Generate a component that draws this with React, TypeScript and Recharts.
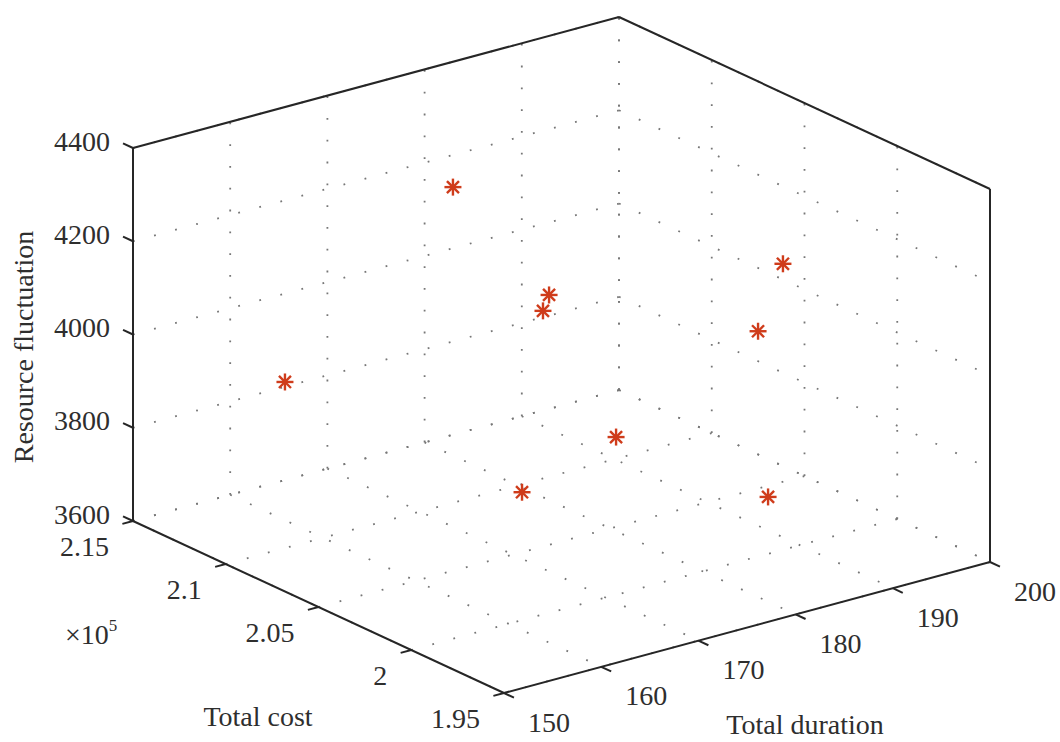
import React from 'react'
import { ScatterChart, Scatter, XAxis, YAxis, ReferenceLine } from 'recharts'

const W = 1060
const H = 742

// data: total duration, total cost, resource fluctuation
const durations = [172, 180, 183, 192, 194, 183, 173, 189, 158]
const costs = [209280, 208290, 210190, 201970, 204360, 206250, 206080, 201200, 211000]
const fluctuations = [4298, 4040, 3954, 4156, 3956, 3756, 3697, 3687, 3927]

const durationTicks = [150, 160, 170, 180, 190, 200]
const costTicks = [215000, 210000, 205000, 200000, 195000]
const costTickLabels = ['2.15', '2.1', '2.05', '2', '1.95']
const fluctuationTicks = [3600, 3800, 4000, 4200, 4400]

const DUR = [150, 200]
const COST = [195000, 215000]
const FLUC = [3600, 4400]

// view of the 3d box on the page
const ORIGIN = { x: 133, y: 521 }
const U = { x: 486, y: -131 }
const V = { x: 371, y: 172 }
const ZH = 373

const project = (d: number, c: number, f: number) => {
  const u = (d - DUR[0]) / (DUR[1] - DUR[0])
  const v = (COST[1] - c) / (COST[1] - COST[0])
  const w = (f - FLUC[0]) / (FLUC[1] - FLUC[0])
  return { x: ORIGIN.x + U.x * u + V.x * v, y: ORIGIN.y + U.y * u + V.y * v - ZH * w }
}

const seg = (a: number[], b: number[]) => [project(a[0], a[1], a[2]), project(b[0], b[1], b[2])]

const FONT = '"Liberation Serif", "DejaVu Serif", serif'
const TEXT = '#2e2e2e'
const EDGE = '#262626'

const points = durations.map((d, i) => project(d, costs[i], fluctuations[i]))

// dotted grid on the three back planes
const grid: { x: number; y: number }[][] = []
durationTicks.forEach((d) => {
  grid.push(seg([d, COST[1], FLUC[0]], [d, COST[1], FLUC[1]]))
  grid.push(seg([d, COST[1], FLUC[0]], [d, COST[0], FLUC[0]]))
})
costTicks.forEach((c) => {
  grid.push(seg([DUR[1], c, FLUC[0]], [DUR[1], c, FLUC[1]]))
  grid.push(seg([DUR[0], c, FLUC[0]], [DUR[1], c, FLUC[0]]))
})
fluctuationTicks.forEach((f) => {
  grid.push(seg([DUR[0], COST[1], f], [DUR[1], COST[1], f]))
  grid.push(seg([DUR[1], COST[1], f], [DUR[1], COST[0], f]))
})

const edges = [
  seg([DUR[0], COST[1], FLUC[0]], [DUR[0], COST[1], FLUC[1]]),
  seg([DUR[0], COST[1], FLUC[1]], [DUR[1], COST[1], FLUC[1]]),
  seg([DUR[1], COST[1], FLUC[1]], [DUR[1], COST[0], FLUC[1]]),
  seg([DUR[1], COST[0], FLUC[1]], [DUR[1], COST[0], FLUC[0]]),
  seg([DUR[0], COST[1], FLUC[0]], [DUR[0], COST[0], FLUC[0]]),
  seg([DUR[0], COST[0], FLUC[0]], [DUR[1], COST[0], FLUC[0]]),
]

const TL = 11
const ticks: { x: number; y: number }[][] = []
const labels: { x: number; y: number; text: string; anchor: string }[] = []
fluctuationTicks.forEach((f) => {
  const p = project(DUR[0], COST[1], f)
  ticks.push([p, { x: p.x - 0.907 * TL, y: p.y - 0.421 * TL }])
  labels.push({ x: p.x - 23, y: p.y - 7, text: String(f), anchor: 'end' })
})
costTicks.forEach((c, i) => {
  const p = project(DUR[0], c, FLUC[0])
  ticks.push([p, { x: p.x - 0.966 * TL, y: p.y + 0.26 * TL }])
  labels.push({ x: p.x - 24, y: p.y + 25, text: costTickLabels[i], anchor: 'end' })
})
durationTicks.forEach((d) => {
  const p = project(d, COST[0], FLUC[0])
  ticks.push([p, { x: p.x + 0.907 * TL, y: p.y + 0.421 * TL }])
  labels.push({ x: p.x + 24, y: p.y + 29, text: String(d), anchor: 'start' })
})

const Star = (props: any) => {
  const { cx, cy } = props
  const r = 8.5
  return (
    <g>
      {[0, 45, 90, 135].map((a) => {
        const dx = r * Math.cos((a * Math.PI) / 180)
        const dy = r * Math.sin((a * Math.PI) / 180)
        return (
          <line key={a} x1={cx - dx} y1={cy - dy} x2={cx + dx} y2={cy + dy} stroke="#cf3c1b" strokeWidth={2.4} />
        )
      })}
    </g>
  )
}

const TickText = (props: any) => (
  <text
    x={props.cx}
    y={props.cy}
    textAnchor={props.payload.anchor}
    dominantBaseline="central"
    fontFamily={FONT}
    fontSize={28}
    fill={TEXT}
  >
    {props.payload.text}
  </text>
)

const title: React.CSSProperties = {
  position: 'absolute',
  fontFamily: FONT,
  fontSize: 28,
  color: TEXT,
  whiteSpace: 'nowrap',
  transform: 'translate(-50%, -50%)',
  lineHeight: 1,
}

export default function App() {
  return (
    <div style={{ position: 'absolute', left: 0, top: 0, width: W, height: H, background: '#fff' }}>
      <ScatterChart width={W} height={H} margin={{ top: 0, right: 0, bottom: 0, left: 0 }}>
        <XAxis type="number" dataKey="x" domain={[0, W]} hide />
        <YAxis type="number" dataKey="y" domain={[0, H]} reversed hide />
        {grid.map((s, i) => (
          <ReferenceLine key={`g${i}`} segment={s} stroke="#777" strokeWidth={1.8} strokeDasharray="1.8 20" />
        ))}
        {edges.map((s, i) => (
          <ReferenceLine key={`e${i}`} segment={s} stroke={EDGE} strokeWidth={2} />
        ))}
        {ticks.map((s, i) => (
          <ReferenceLine key={`t${i}`} segment={s} stroke={EDGE} strokeWidth={2} />
        ))}
        <Scatter data={labels} shape={TickText} isAnimationActive={false} />
        <Scatter data={points} shape={Star} isAnimationActive={false} />
      </ScatterChart>
      <div style={{ ...title, left: 24, top: 347, transform: 'translate(-50%, -50%) rotate(-90deg)' }}>
        Resource fluctuation
      </div>
      <div style={{ ...title, left: 258, top: 717 }}>Total cost</div>
      <div style={{ ...title, left: 805, top: 725 }}>Total duration</div>
      <div style={{ ...title, left: 65, top: 635, transform: 'translateY(-50%)' }}>
        ×10<sup style={{ fontSize: 17, verticalAlign: 'top', position: 'relative', top: -4 }}>5</sup>
      </div>
    </div>
  )
}
